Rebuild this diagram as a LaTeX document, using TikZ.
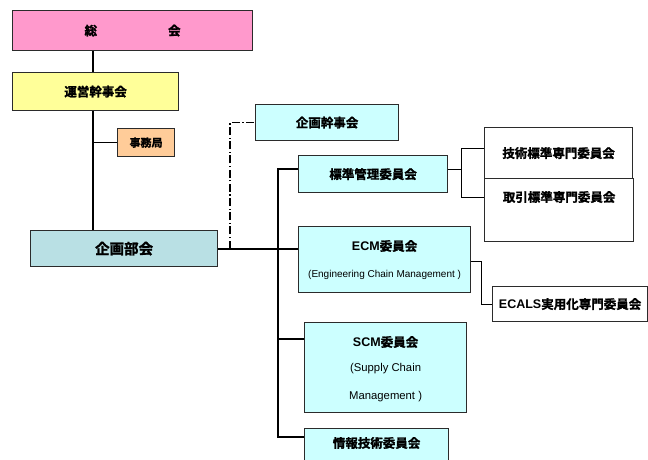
\documentclass[tikz,border=0pt]{standalone}
\usepackage{fontspec}
\setmainfont{Liberation Sans}
\newfontfamily\jpfont{Noto Sans CJK JP}[BoldFont={Noto Sans CJK JP Bold}, BoldFeatures={FakeBold=1.6}]
\definecolor{cPink}{HTML}{FF99CC}
\definecolor{cYellow}{HTML}{FFFF99}
\definecolor{cOrange}{HTML}{FFCC99}
\definecolor{cCyan}{HTML}{CCFFFF}
\definecolor{cTeal}{HTML}{B9E0E4}
\definecolor{cEdge}{HTML}{2B2B2B}
\tikzset{
  box/.style={draw=cEdge, line width=1.2pt, inner sep=0pt, anchor=north west,
              font=\jpfont\bfseries\fontsize{12.5}{14}\selectfont},
  txt/.style={inner sep=0pt, font=\jpfont\bfseries\fontsize{12.5}{14}\selectfont},
  sub/.style={inner sep=0pt, font=\fontsize{10}{12}\selectfont},
  subbig/.style={inner sep=0pt, font=\fontsize{11.3}{13}\selectfont},
  main/.style={line width=2pt},
  link/.style={line width=1pt},
  chain/.style={line width=1.4pt, dash pattern=on 8pt off 2.5pt on 1.2pt off 2.5pt},
}
\begin{document}
\begin{tikzpicture}[x=1pt, y=-1pt]
\useasboundingbox (0,0) rectangle (648,460);
\clip (0,0) rectangle (648,460);

% governing bodies on the left
\node[box, fill=cPink, minimum width=240pt, minimum height=40pt] (soukai) at (12,10) {総\hspace{71pt}会};
\node[box, fill=cYellow, minimum width=166pt, minimum height=38pt] (unei) at (12,72) {運営幹事会};
\node[box, fill=cOrange, minimum width=57pt, minimum height=28pt, font=\jpfont\bfseries\fontsize{11}{13}\selectfont] (jimu) at (117,128) {事務局};
\node[box, fill=cTeal, minimum width=187pt, minimum height=36pt, font=\jpfont\bfseries\fontsize{14.5}{16}\selectfont] (bukai) at (30,230) {企画部会};

% committees
\node[box, fill=cCyan, minimum width=143pt, minimum height=36pt] (kanji) at (255,104) {企画幹事会};
\node[box, fill=cCyan, minimum width=149pt, minimum height=37pt] (hyojun) at (298,155) {標準管理委員会};
\node[box, fill=cCyan, minimum width=172pt, minimum height=66pt] (ecm) at (298,226) {};
\node[txt] (ecmtitle) at ([yshift=-20pt]ecm.north) {{\fontspec{Liberation Sans}\bfseries ECM}委員会};
\node[sub] (ecmsub) at ([yshift=-49pt]ecm.north) {(Engineering Chain Management )};
\node[box, fill=cCyan, minimum width=162pt, minimum height=90pt] (scm) at (304,322) {};
\node[txt] (scmtitle) at ([yshift=-20pt]scm.north) {{\fontspec{Liberation Sans}\bfseries SCM}委員会};
\node[subbig] (scmsub1) at ([yshift=-47pt]scm.north) {(Supply Chain};
\node[subbig] (scmsub2) at ([yshift=-75pt]scm.north) {Management )};
\node[box, fill=cCyan, minimum width=144pt, minimum height=44pt] (joho) at (304,428) {};
\node[txt] (johotxt) at ([yshift=-15pt]joho.north) {情報技術委員会};

% expert sub-committees
\node[box, fill=white, minimum width=148pt, minimum height=51pt] (gijutsu) at (484,127) {技術標準専門委員会};
\node[box, fill=white, minimum width=149pt, minimum height=63pt] (torihiki) at (484,178) {};
\node[txt] (torihikitxt) at ([yshift=-19pt]torihiki.north) {取引標準専門委員会};
\node[box, fill=white, minimum width=155pt, minimum height=35pt] (ecals) at (492,286) {{\fontspec{Liberation Sans}\bfseries ECALS}実用化専門委員会};

% vertical trunks and branch points
\coordinate (leftx) at (93,0);
\coordinate (chainx) at (230,0);
\coordinate (trunkx) at (278,0);
\coordinate (forkx) at (461,0);
\coordinate (ecmx) at (481,0);
\coordinate (hyojunL) at ([yshift=-14pt]hyojun.north west);
\coordinate (hyojunR) at ([yshift=-14pt]hyojun.north east);
\coordinate (scmL) at ([yshift=-17pt]scm.north west);
\coordinate (johoL) at ([yshift=-9pt]joho.north west);
\coordinate (gijutsuL) at ([yshift=-21pt]gijutsu.north west);
\coordinate (torihikiL) at ([yshift=-19pt]torihiki.north west);
\coordinate (ecmR) at ([yshift=-35pt]ecm.north east);

% left column
\draw[main] (soukai.south -| leftx) -- (unei.north -| leftx);
\draw[main] (unei.south -| leftx) -- (bukai.north -| leftx);
\draw[link] (jimu.west) -- (jimu.west -| leftx);

% planning committee to its subordinates
\draw[main] (bukai.east) -- (bukai.east -| ecm.west);
\draw[chain] (bukai.east -| chainx) |- (kanji.west);
\draw[main] (hyojunL) -| (trunkx |- johoL) -- (johoL);
\draw[main] (scmL -| trunkx) -- (scmL);

% right-hand branches
\draw[link] (hyojunR) -- (hyojunR -| forkx);
\draw[link] (gijutsuL) -| (forkx |- torihikiL) -- (torihikiL);
\draw[link] (ecmR) -| (ecmx |- ecals.west) -- (ecals.west);
\end{tikzpicture}
\end{document}
